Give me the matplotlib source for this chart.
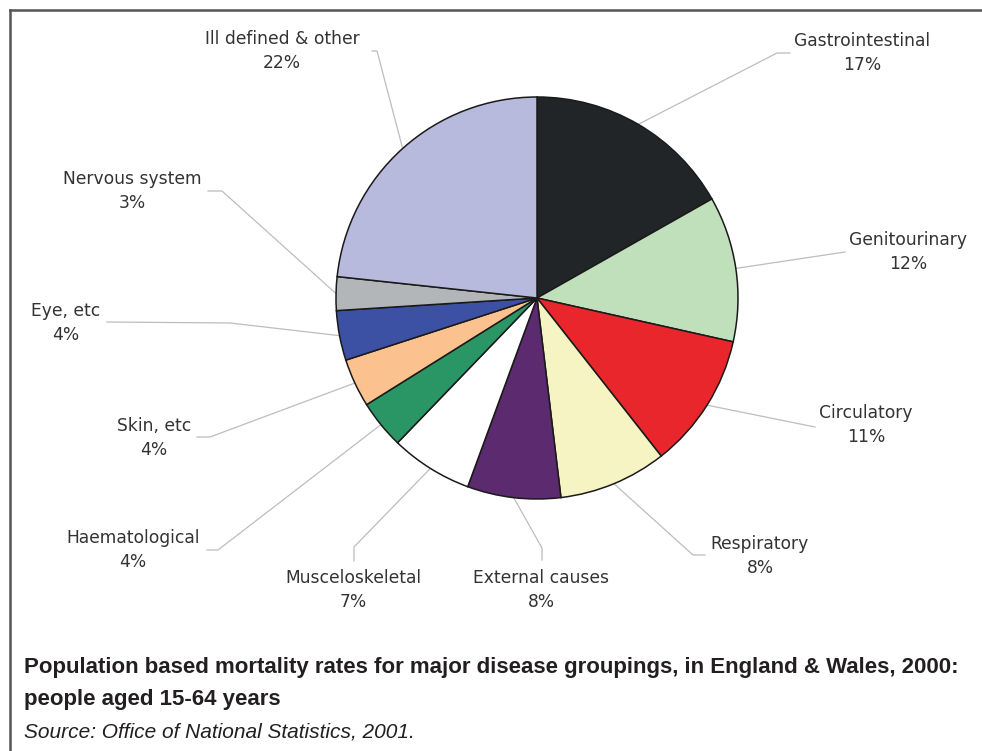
import matplotlib
matplotlib.use('Agg')
import matplotlib.pyplot as plt
import numpy as np

# shares, printed percentages as on the chart
groups = ['Gastrointestinal', 'Genitourinary', 'Circulatory', 'Respiratory',
          'External causes', 'Musceloskeletal', 'Haematological', 'Skin, etc',
          'Eye, etc', 'Nervous system', 'Ill defined & other']
shares = [16.8, 11.7, 10.9, 8.7, 7.5, 6.6, 3.9, 3.9, 4.0, 2.7, 23.3]
printed = [17, 12, 11, 8, 8, 7, 4, 4, 4, 3, 22]
colors = ['#222527', '#c0dfbb', '#e8262b', '#f7f4c4', '#5c2a6e', '#ffffff',
          '#2a9565', '#fbc18e', '#3c51a3', '#b3b6b9', '#b7badc']

# label layout in pixel coords (x, y from top): elbow, line end, text centre
elbows = [(777, 53), (845, 252), (815, 427), (693, 555), (542, 548), (354, 547),
          (218, 550), (210, 437), (230, 323), (222, 191), (377, 51)]
ends = [(790, 53), (845, 252), (815, 427), (705, 555), (542, 560), (354, 561),
        (207, 550), (197, 437), (107, 322), (208, 191), (372, 51)]
text_pos = [(862, 53), (908, 252), (866, 425), (760, 556), (541, 590), (353, 590),
            (133, 550), (154, 438), (66, 323), (132, 191), (282, 51)]

W, H = 982, 751
cx, cy, R = 537, 298, 201

fig = plt.figure(figsize=(W / 100, H / 100), dpi=100)
ax = fig.add_axes([0, 0, 1, 1])

wedges, _ = ax.pie(shares, colors=colors, startangle=-90, counterclock=True,
                   center=(cx, cy), radius=R,
                   wedgeprops=dict(edgecolor='#1a1a1a', linewidth=1.1))
for w in wedges:
    w.set_zorder(3)

ax.set_xlim(0, W)
ax.set_ylim(H, 0)
ax.set_aspect('equal')
ax.axis('off')

for i, w in enumerate(wedges):
    mid = np.deg2rad((w.theta1 + w.theta2) / 2)
    sx, sy = cx + R * np.cos(mid), cy + R * np.sin(mid)
    xs = [sx, elbows[i][0], ends[i][0]]
    ys = [sy, elbows[i][1], ends[i][1]]
    ax.plot(xs, ys, color='#bdbdbd', lw=0.9, zorder=2)
    ax.text(text_pos[i][0], text_pos[i][1], f'{groups[i]}\n{printed[i]}%',
            ha='center', va='center', fontsize=12.3, color='#333333',
            linespacing=1.45, family=['DejaVu Sans'])

# frame (left and top edges only)
ax.plot([10, 10], [H, 10], color='#555555', lw=1.8, zorder=5)
ax.plot([10, W], [10, 10], color='#555555', lw=1.8, zorder=5)

cap_font = ['Liberation Sans Narrow', 'Liberation Sans', 'DejaVu Sans']
ax.text(24, 673, 'Population based mortality rates for major disease groupings, in England & Wales, 2000:',
        ha='left', va='baseline', fontsize=16, fontweight='bold',
        color='#231f20', family=cap_font)
ax.text(24, 705, 'people aged 15-64 years',
        ha='left', va='baseline', fontsize=16, fontweight='bold',
        color='#231f20', family=cap_font)
ax.text(24, 737, 'Source: Office of National Statistics, 2001.',
        ha='left', va='baseline', fontsize=15, style='italic',
        color='#231f20', family=cap_font)

fig.savefig('out.png', dpi=100)
